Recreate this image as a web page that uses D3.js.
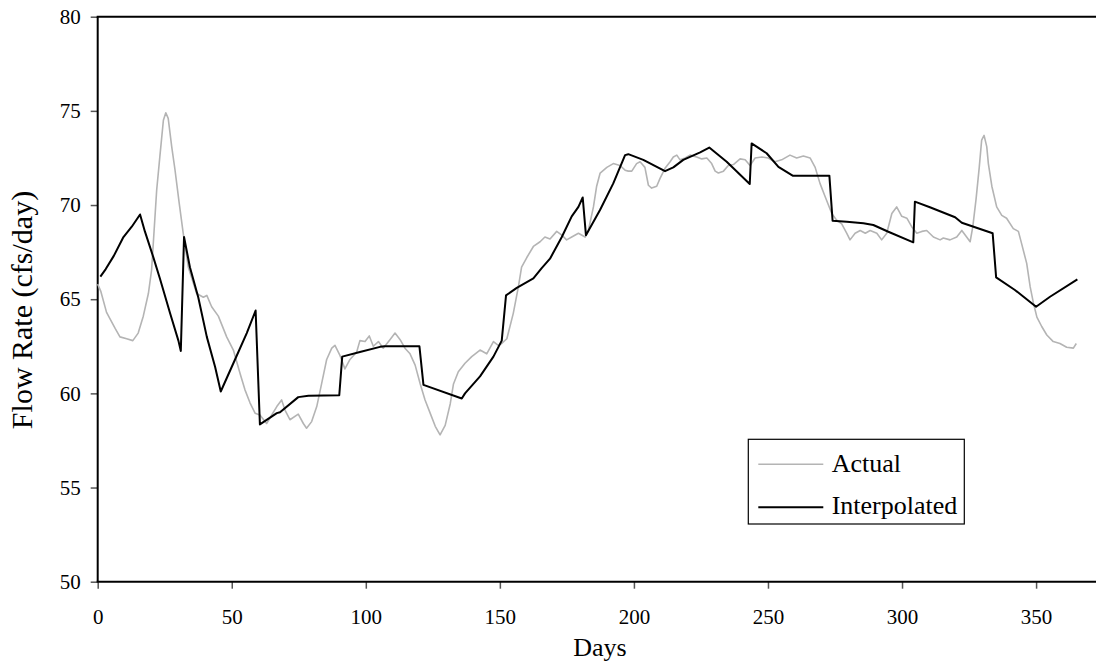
<!DOCTYPE html>
<html>
<head>
<meta charset="utf-8">
<script src="https://cdn.jsdelivr.net/npm/d3@7"></script>
<style>
  html, body { margin: 0; padding: 0; background: #fff; }
  svg { display: block; font-family: "Liberation Serif", "Times New Roman", serif; }
</style>
</head>
<body>
<svg id="chart" width="1096" height="663"></svg>
<script>
// ---- Data ----
const xTicks = [0, 50, 100, 150, 200, 250, 300, 350];
const yTicks = [50, 55, 60, 65, 70, 75, 80];
const seriesNames = ["Actual", "Interpolated"];

const actualDays = [0, 1.2, 3.3, 6.5, 8.3, 10.8, 13.1, 15.1, 17, 18.9, 20.1, 22, 23.2, 24.5, 25.4, 26.3, 27.6, 28.8, 30.4, 31.9, 33.8, 36.9, 39.4, 40.7, 42.5, 45, 48.1, 50.6, 53.1, 54.9, 56.8, 58.7, 60.5, 63, 64.9, 66.8, 68.6, 69.9, 71.7, 74.8, 76.7, 77.9, 79.8, 81.7, 83.5, 85.4, 87.3, 88.5, 90.4, 92.2, 94.1, 96.6, 97.8, 99.7, 101.3, 102.8, 104.7, 106.5, 109, 110.9, 112.8, 114.6, 116.5, 118.4, 120.3, 122.1, 124, 125.9, 127.7, 129.6, 131.5, 132.7, 134.5, 137, 139.5, 142.6, 145.1, 147.6, 149.4, 150.7, 152.6, 155, 156.9, 158.1, 160, 162.5, 165, 166.8, 168.7, 171.2, 173.1, 174.9, 176.8, 179.3, 181.8, 183, 184.9, 186.1, 187.4, 189.9, 192.3, 194.8, 196.7, 197.9, 199.2, 201, 202.3, 204.1, 205.4, 206.6, 208.5, 209.7, 211.6, 213.5, 214.7, 216, 217.2, 219.1, 220.9, 223.4, 225.3, 227.2, 229, 230.3, 231.5, 233.4, 235.2, 237.1, 239.6, 241.5, 243.3, 245.2, 247.7, 250.1, 252.6, 255.1, 258.2, 260.7, 263.2, 265.7, 267.6, 269.4, 271.3, 273.8, 275.6, 277.5, 279.4, 280.6, 282.5, 284.4, 286.3, 288.1, 290.6, 292.4, 294.3, 296.2, 298, 299.9, 301.8, 303.6, 305.5, 307.4, 309.2, 311.7, 314.2, 315.4, 317.9, 320.4, 322.3, 324.1, 325.4, 326.4, 327.6, 328.8, 329.7, 330.6, 331.6, 332.2, 333.5, 335.3, 337.2, 339, 341.5, 343.4, 344.6, 346.5, 347.8, 349, 350.3, 352.1, 354, 356.4, 358.9, 361.4, 363.9, 365];
const actualValues = [65.8, 65.4, 64.3, 63.45, 63.0, 62.9, 62.8, 63.2, 64.1, 65.3, 66.55, 70.8, 72.6, 74.5, 74.9, 74.6, 73.1, 71.9, 70.1, 68.5, 66.7, 65.3, 65.1, 65.2, 64.6, 64.1, 63.0, 62.3, 61.05, 60.2, 59.5, 58.95, 58.85, 58.4, 58.85, 59.3, 59.65, 59.1, 58.6, 58.9, 58.4, 58.15, 58.5, 59.3, 60.5, 61.8, 62.4, 62.55, 62.0, 61.3, 61.8, 62.2, 62.8, 62.75, 63.05, 62.5, 62.75, 62.4, 62.85, 63.2, 62.85, 62.4, 62.1, 61.5, 60.5, 59.65, 58.95, 58.25, 57.8, 58.3, 59.45, 60.5, 61.15, 61.6, 61.95, 62.3, 62.1, 62.75, 62.55, 62.65, 62.9, 64.25, 65.65, 66.7, 67.2, 67.8, 68.05, 68.3, 68.2, 68.6, 68.4, 68.15, 68.3, 68.5, 68.3, 68.65, 69.9, 71.0, 71.7, 72.0, 72.2, 72.1, 71.85, 71.8, 71.8, 72.2, 72.3, 72.0, 71.05, 70.9, 71.0, 71.4, 71.95, 72.3, 72.55, 72.65, 72.4, 72.5, 72.65, 72.55, 72.45, 72.5, 72.2, 71.8, 71.7, 71.8, 72.1, 72.15, 72.45, 72.4, 72.1, 72.5, 72.55, 72.5, 72.3, 72.4, 72.65, 72.5, 72.6, 72.5, 72.0, 71.15, 70.45, 69.55, 69.2, 69.0, 68.5, 68.15, 68.5, 68.65, 68.5, 68.65, 68.5, 68.15, 68.5, 69.55, 69.9, 69.4, 69.3, 68.85, 68.5, 68.6, 68.65, 68.3, 68.15, 68.25, 68.15, 68.3, 68.65, 68.3, 68.05, 68.85, 70.3, 72.0, 73.45, 73.7, 73.1, 72.2, 71.0, 69.9, 69.45, 69.3, 68.75, 68.6, 67.95, 66.9, 65.65, 64.8, 64.05, 63.55, 63.1, 62.75, 62.65, 62.45, 62.4, 62.65];

const interpDays = [1, 3, 6, 9.6, 12.7, 15.8, 17.6, 20.7, 23.2, 27, 30.1, 31, 32.2, 34.4, 37.5, 40.7, 43.8, 45.9, 50.6, 55.6, 58.9, 60.5, 66.8, 68, 74.8, 78.6, 90.1, 91.2, 97.8, 105.3, 107, 120, 121.5, 135.8, 137, 142.6, 147.6, 150.7, 152.3, 156.3, 162.5, 165.6, 168.7, 173.1, 176.8, 179.3, 180.9, 182.1, 187.4, 192.3, 196.7, 197.9, 203.5, 211.6, 214.7, 218.4, 224.7, 228.1, 234.6, 243.2, 243.9, 249.5, 253.9, 259.2, 272.9, 274.1, 279.4, 285.6, 289.3, 294.9, 304.2, 304.8, 310.4, 319.8, 322.3, 333.8, 335.1, 342.1, 350, 355.2, 365.4];
const interpValues = [66.2, 66.6, 67.3, 68.3, 68.85, 69.5, 68.6, 67.25, 66.1, 64.25, 62.8, 62.25, 68.3, 66.7, 65.1, 63.0, 61.4, 60.1, 61.6, 63.2, 64.4, 58.35, 58.95, 59.0, 59.8, 59.87, 59.9, 61.95, 62.2, 62.47, 62.5, 62.5, 60.45, 59.73, 60.0, 60.9, 61.95, 62.8, 65.2, 65.6, 66.1, 66.65, 67.15, 68.3, 69.4, 69.9, 70.4, 68.4, 69.75, 71.15, 72.65, 72.7, 72.4, 71.8, 72.0, 72.4, 72.8, 73.05, 72.3, 71.12, 73.27, 72.75, 72.03, 71.56, 71.56, 69.17, 69.11, 69.03, 68.94, 68.58, 68.02, 70.18, 69.88, 69.35, 69.06, 68.5, 66.16, 65.49, 64.6, 65.13, 66.05];

// ---- Layout ----
const svg = d3.select("#chart");
const W = 1096, H = 663;
const mLeft = 97.7, mRight = 1076.3, mTop = 16.7, mBottom = 581.7;

svg.append("rect").attr("width", W).attr("height", H).attr("fill", "#fff");

const x = d3.scaleLinear().domain([0, 365]).range([mLeft, mRight]);
const y = d3.scaleLinear().domain([50, 80]).range([mBottom, mTop]);

// Axes (ticks + labels)
const yAxis = svg.append("g")
  .attr("transform", `translate(${mLeft},0)`)
  .call(d3.axisLeft(y).tickValues(yTicks).tickSize(7).tickPadding(10).tickFormat(d3.format("d")));
const xAxis = svg.append("g")
  .attr("transform", `translate(0,${mBottom})`)
  .call(d3.axisBottom(x).tickValues(xTicks).tickSize(7).tickPadding(20.5).tickFormat(d3.format("d")));

[yAxis, xAxis].forEach(g => {
  g.select(".domain").remove();
  g.selectAll(".tick line").attr("stroke", "#555").attr("stroke-width", 1.5);
  g.selectAll(".tick text")
    .attr("fill", "#000")
    .style("font-family", '"Liberation Serif", "Times New Roman", serif')
    .style("font-size", "21px");
});

// Frame lines: left, bottom, top
const frame = svg.append("g").attr("stroke", "#000").attr("stroke-width", 2).attr("fill", "none");
frame.append("line").attr("x1", mLeft).attr("x2", mLeft).attr("y1", mTop).attr("y2", mBottom);
frame.append("line").attr("x1", mLeft - 1).attr("x2", W).attr("y1", mBottom).attr("y2", mBottom);
frame.append("line").attr("x1", mLeft - 1).attr("x2", W).attr("y1", mTop).attr("y2", mTop);

// Lines
const actual = actualDays.map((d, i) => [d, actualValues[i]]);
const interp = interpDays.map((d, i) => [d, interpValues[i]]);
const line = d3.line().x(d => x(d[0])).y(d => y(d[1]));

svg.append("path").datum(actual)
  .attr("d", line)
  .attr("fill", "none")
  .attr("stroke", "#b4b4b4")
  .attr("stroke-width", 1.6)
  .attr("stroke-linejoin", "round");

svg.append("path").datum(interp)
  .attr("d", line)
  .attr("fill", "none")
  .attr("stroke", "#000")
  .attr("stroke-width", 2)
  .attr("stroke-linejoin", "round");

// Axis titles
svg.append("text")
  .attr("x", 600).attr("y", 656)
  .attr("text-anchor", "middle")
  .style("font-size", "26px")
  .text("Days");

svg.append("text")
  .attr("transform", `translate(32,310) rotate(-90)`)
  .attr("text-anchor", "middle")
  .style("font-size", "30px")
  .text("Flow Rate (cfs/day)");

// Legend
const lg = svg.append("g");
lg.append("rect")
  .attr("x", 748.3).attr("y", 439.3)
  .attr("width", 216).attr("height", 84.7)
  .attr("fill", "#fff").attr("stroke", "#000").attr("stroke-width", 1.2);
const legendStyles = [
  { stroke: "#b4b4b4", width: 1.6, ly: 464.3, ty: 472.3 },
  { stroke: "#000", width: 2, ly: 507.3, ty: 514 }
];
seriesNames.forEach((name, i) => {
  const s = legendStyles[i];
  lg.append("line")
    .attr("x1", 758.3).attr("x2", 823.3)
    .attr("y1", s.ly).attr("y2", s.ly)
    .attr("stroke", s.stroke).attr("stroke-width", s.width);
  lg.append("text")
    .attr("x", 831.7).attr("y", s.ty)
    .style("font-size", "26px")
    .text(name);
});
</script>
</body>
</html>
